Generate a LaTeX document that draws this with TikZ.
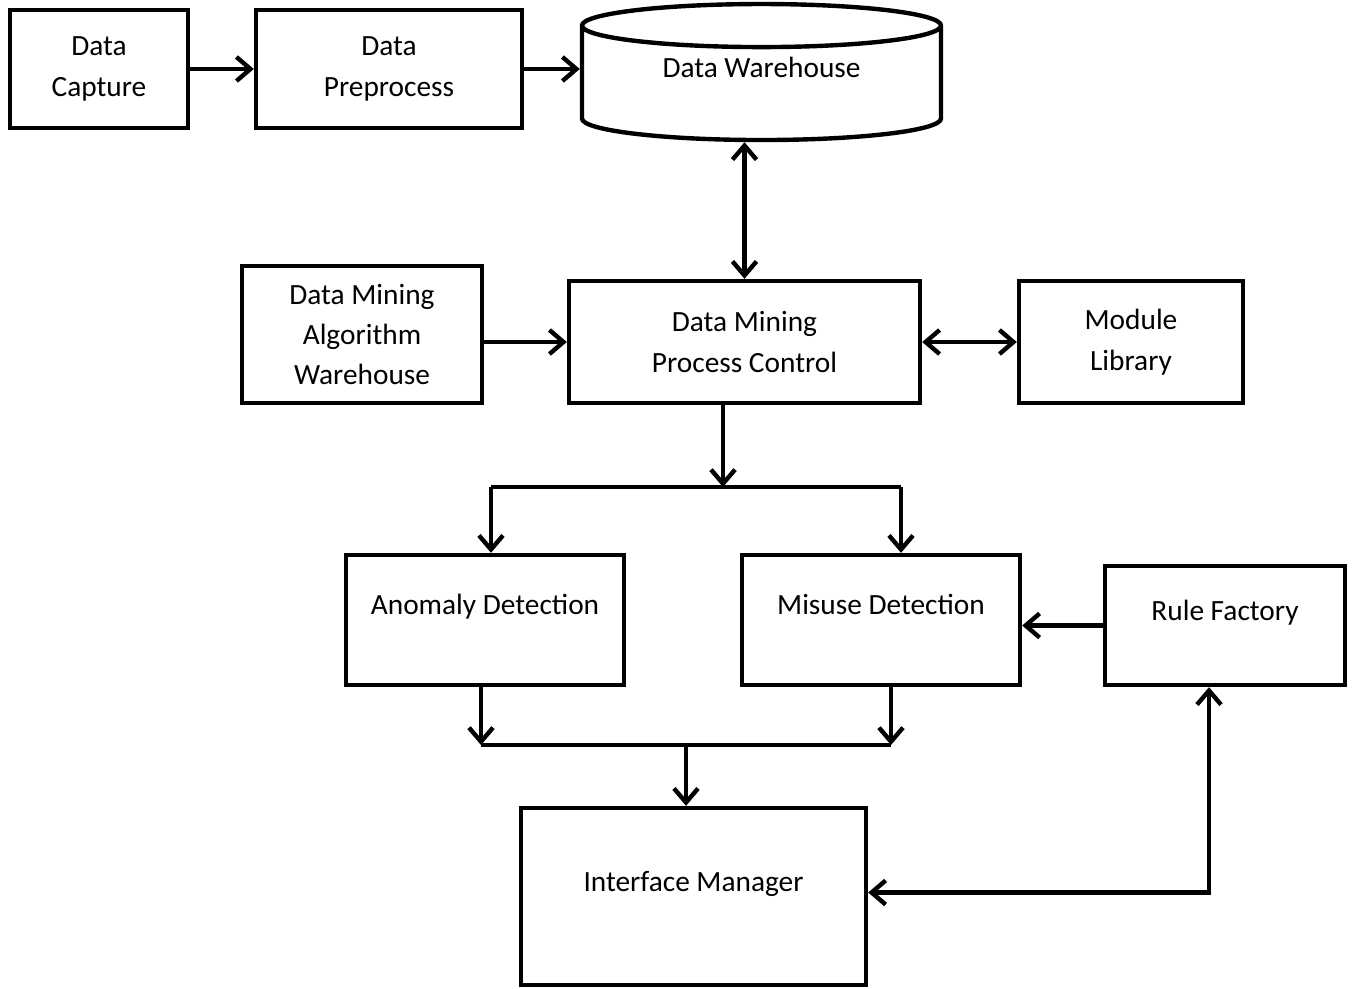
\documentclass[tikz,border=0pt]{standalone}
\usepackage{fontspec}
\setmainfont{Carlito}
\usetikzlibrary{arrows.meta, positioning, shapes.geometric, calc}

\begin{document}
\begin{tikzpicture}[
    box/.style={draw, line width=2.5pt, font=\fontsize{16.7}{23}\selectfont, align=center, inner sep=2pt},
    upper/.style={text height=0.42cm, text depth=0.64cm},
    arr/.style={-{Straight Barb[length=0.28cm, width=0.48cm, line width=2.5pt]}, line width=2.5pt},
    dbl/.style={{Straight Barb[length=0.28cm, width=0.48cm, line width=2.5pt]}-{Straight Barb[length=0.28cm, width=0.48cm, line width=2.5pt]}, line width=2.5pt},
    bus/.style={line width=2.5pt}
]
    \useasboundingbox (0,0) rectangle (27.06,-19.76);

    % top row
    \node[box, minimum width=3.56cm, minimum height=2.36cm] (cap) at (1.98,-1.38) {Data\\Capture};
    \node[box, minimum width=5.32cm, minimum height=2.36cm] (prep) at (7.78,-1.38) {Data\\Preprocess};
    \node[box, cylinder, shape border rotate=90, aspect=0.21, minimum width=7.18cm, minimum height=2.72cm,
        text height=0.42cm, text depth=0.78cm] (dw) at (15.23,-1.72) {Data Warehouse};

    % control row
    \node[box, minimum width=4.8cm, minimum height=2.74cm] (alg) at (7.24,-6.69) {Data Mining\\Algorithm\\Warehouse};
    \node[box, minimum width=7.02cm, minimum height=2.44cm] (pc) at (14.89,-6.84) {Data Mining\\Process Control};
    \node[box, minimum width=4.48cm, minimum height=2.44cm] (mod) at (22.62,-6.84) {Module\\Library};

    % detection row
    \node[box, upper, minimum width=5.56cm, minimum height=2.6cm] (ano) at (9.70,-12.40) {Anomaly Detection};
    \node[box, upper, minimum width=5.56cm, minimum height=2.6cm] (mis) at (17.62,-12.40) {Misuse Detection};
    \node[box, upper, minimum width=4.8cm, minimum height=2.38cm] (rule) at (24.50,-12.51) {Rule Factory};
    \node[box, upper, minimum width=6.9cm, minimum height=3.54cm] (ifm) at (13.87,-17.93) {Interface Manager};

    % data flow
    \draw[arr] (cap) -- (prep);
    \draw[arr] (prep.east) -- (prep.east -| dw.west);
    \draw[dbl] (pc.north) -- (pc.north |- dw.south);
    \draw[arr] (alg.east |- pc.west) -- (pc.west);
    \draw[dbl] (pc.east) -- (mod.west);

    % split to detection
    \coordinate (jdown) at (14.46,-9.74);
    \coordinate (busL) at (9.82,-9.74);
    \coordinate (busR) at (18.02,-9.74);
    \draw[arr] (jdown |- pc.south) -- (jdown);
    \draw[bus] (busL) -- (busR);
    \draw[arr] (busL) -- (busL |- ano.north);
    \draw[arr] (busR) -- (busR |- mis.north);

    % merge to interface
    \coordinate (mergeL) at (9.62,-14.90);
    \coordinate (mergeR) at (17.82,-14.90);
    \coordinate (jmerge) at (13.72,-14.90);
    \draw[arr] (mergeL |- ano.south) -- (mergeL);
    \draw[arr] (mergeR |- mis.south) -- (mergeR);
    \draw[bus] (mergeL) -- (mergeR);
    \draw[arr] (jmerge) -- (jmerge |- ifm.north);

    % rules
    \draw[arr] (rule.west) -- (rule.west -| mis.east);
    \coordinate (jturn) at (24.18,-17.85);
    \draw[dbl] (jturn -| ifm.east) -- (jturn) -- (jturn |- rule.south);
\end{tikzpicture}
\end{document}
